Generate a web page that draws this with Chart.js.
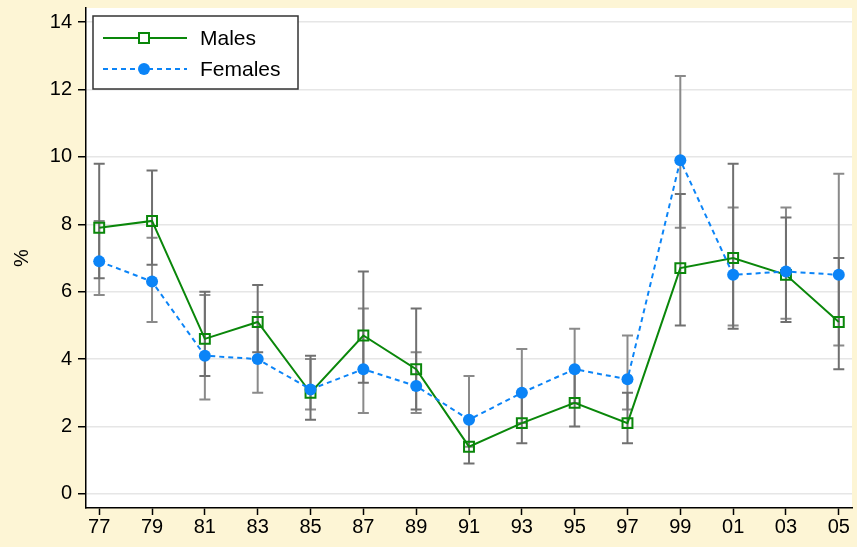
<!DOCTYPE html>
<html>
<head>
<meta charset="utf-8">
<script src="https://cdn.jsdelivr.net/npm/chart.js@4.4.1/dist/chart.umd.min.js"></script>
<style>
  html, body { margin: 0; padding: 0; background: #fdf5d5; }
  #wrap { width: 857px; height: 547px; position: relative; }
</style>
</head>
<body>
<div id="wrap"><canvas id="c" width="857" height="547"></canvas></div>
<script>
// Survey years (two-digit labels)
const years = ['77','79','81','83','85','87','89','91','93','95','97','99','01','03','05'];

// Prevalence (%) with confidence interval bounds
const maleRate   = [7.9, 8.1, 4.6, 5.1, 3.0, 4.7, 3.7, 1.4, 2.1, 2.7, 2.1, 6.7, 7.0, 6.5, 5.1];
const maleLow    = [6.4, 6.8, 3.5, 4.2, 2.2, 3.3, 2.5, 0.9, 1.5, 2.0, 1.5, 5.0, 4.9, 5.1, 3.7];
const maleHigh   = [9.8, 9.6, 6.0, 6.2, 4.1, 6.6, 5.5, 2.2, 3.0, 3.7, 3.0, 8.9, 9.8, 8.2, 7.0];

const femaleRate = [6.9, 6.3, 4.1, 4.0, 3.1, 3.7, 3.2, 2.2, 3.0, 3.7, 3.4, 9.9, 6.5, 6.6, 6.5];
const femaleLow  = [5.9, 5.1, 2.8, 3.0, 2.5, 2.4, 2.4, 1.4, 2.1, 2.7, 2.5, 7.9, 5.0, 5.2, 4.4];
const femaleHigh = [8.1, 7.6, 5.9, 5.4, 4.0, 5.5, 4.2, 3.5, 4.3, 4.9, 4.7, 12.4, 8.5, 8.5, 9.5];

const yTicks = [0, 2, 4, 6, 8, 10, 12, 14];

const GREEN = '#0a870a';
const BLUE = '#0b84f7';
const FONT = { family: '"Liberation Sans", Arial, Helvetica, sans-serif', size: 20 };

const toPoints = arr => arr.map((v, i) => ({ x: i, y: v }));

// White plot region on the tinted page
const plotBackground = {
  id: 'plotBackground',
  beforeDraw(chart) {
    const { ctx, chartArea: a } = chart;
    ctx.save();
    ctx.fillStyle = '#ffffff';
    ctx.fillRect(a.left, a.top, a.right - a.left, a.bottom - a.top);
    ctx.restore();
  }
};

// Confidence-interval whiskers, drawn beneath the series
const errorBars = {
  id: 'errorBars',
  beforeDatasetsDraw(chart) {
    const { ctx, scales: { x, y } } = chart;
    const cap = 5.5;
    const drawSet = (low, high, color) => {
      ctx.strokeStyle = color;
      ctx.lineWidth = 2;
      low.forEach((lo, i) => {
        const px = x.getPixelForValue(i);
        const y1 = y.getPixelForValue(lo);
        const y2 = y.getPixelForValue(high[i]);
        ctx.beginPath();
        ctx.moveTo(px, y1); ctx.lineTo(px, y2);
        ctx.moveTo(px - cap, y1); ctx.lineTo(px + cap, y1);
        ctx.moveTo(px - cap, y2); ctx.lineTo(px + cap, y2);
        ctx.stroke();
      });
    };
    ctx.save();
    drawSet(femaleLow, femaleHigh, '#8a8a8a');
    drawSet(maleLow, maleHigh, '#707070');
    ctx.restore();
  }
};

// Boxed legend in the upper-left corner of the plot
const boxLegend = {
  id: 'boxLegend',
  afterDraw(chart) {
    const { ctx, chartArea: a } = chart;
    const bx = a.left + 7, by = a.top + 8, bw = 205, bh = 73;
    ctx.save();
    ctx.fillStyle = '#ffffff';
    ctx.fillRect(bx, by, bw, bh);
    ctx.strokeStyle = '#333333';
    ctx.lineWidth = 1.5;
    ctx.strokeRect(bx, by, bw, bh);

    const rows = [
      { label: 'Males', color: GREEN, dash: [], marker: 'square', cy: by + 22 },
      { label: 'Females', color: BLUE, dash: [5, 4], marker: 'circle', cy: by + 53 }
    ];
    rows.forEach(r => {
      ctx.strokeStyle = r.color;
      ctx.lineWidth = 2;
      ctx.setLineDash(r.dash);
      ctx.beginPath();
      ctx.moveTo(bx + 10, r.cy);
      ctx.lineTo(bx + 94, r.cy);
      ctx.stroke();
      ctx.setLineDash([]);
      const mx = bx + 51;
      if (r.marker === 'square') {
        ctx.fillStyle = '#ffffff';
        ctx.fillRect(mx - 5, r.cy - 5, 10, 10);
        ctx.strokeRect(mx - 5, r.cy - 5, 10, 10);
      } else {
        ctx.fillStyle = r.color;
        ctx.beginPath();
        ctx.arc(mx, r.cy, 6, 0, Math.PI * 2);
        ctx.fill();
      }
      ctx.fillStyle = '#000000';
      ctx.font = `21px ${FONT.family}`;
      ctx.textBaseline = 'middle';
      ctx.textAlign = 'left';
      ctx.fillText(r.label, bx + 107, r.cy + 1);
    });
    ctx.restore();
  }
};

new Chart(document.getElementById('c'), {
  type: 'line',
  data: {
    datasets: [
      {
        label: 'Males',
        data: toPoints(maleRate),
        borderColor: GREEN,
        borderWidth: 2,
        pointStyle: 'rect',
        pointRadius: 7,
        pointBorderWidth: 2,
        pointBorderColor: GREEN,
        pointBackgroundColor: 'rgba(0,0,0,0)',
        tension: 0,
        order: 2
      },
      {
        label: 'Females',
        data: toPoints(femaleRate),
        borderColor: BLUE,
        borderWidth: 2,
        borderDash: [5, 4],
        pointStyle: 'circle',
        pointRadius: 6,
        pointBorderWidth: 0,
        pointBackgroundColor: BLUE,
        pointBorderColor: BLUE,
        tension: 0,
        order: 1
      }
    ]
  },
  options: {
    responsive: false,
    animation: false,
    layout: { autoPadding: false, padding: { top: 8, right: 5, left: 0, bottom: 0 } },
    plugins: { legend: { display: false }, tooltip: { enabled: false } },
    scales: {
      x: {
        type: 'linear',
        min: -0.25,
        max: 14.25,
        afterBuildTicks: s => { s.ticks = years.map((_, i) => ({ value: i })); },
        afterFit: s => { s.height = 39; s.paddingLeft = 0; s.paddingRight = 0; },
        ticks: {
          callback: v => years[v],
          font: FONT,
          color: '#000',
          padding: 0,
          autoSkip: false,
          maxRotation: 0
        },
        grid: { drawOnChartArea: false, tickLength: 7, tickColor: '#000', tickWidth: 1.5 },
        border: { color: '#000', width: 1.5 }
      },
      y: {
        min: -0.42,
        max: 14.42,
        afterBuildTicks: s => { s.ticks = yTicks.map(v => ({ value: v })); },
        afterFit: s => { s.width = 86; s.paddingTop = 0; s.paddingBottom = 0; },
        ticks: { font: FONT, color: '#000', padding: 6 },
        grid: { color: '#e6e6e6', lineWidth: 1.5, tickLength: 8, tickColor: '#000', tickWidth: 1.5 },
        border: { color: '#000', width: 1.5 },
        title: { display: true, text: '%', font: FONT, color: '#000', padding: { top: 10, bottom: 0 } }
      }
    }
  },
  plugins: [plotBackground, errorBars, boxLegend]
});
</script>
</body>
</html>
